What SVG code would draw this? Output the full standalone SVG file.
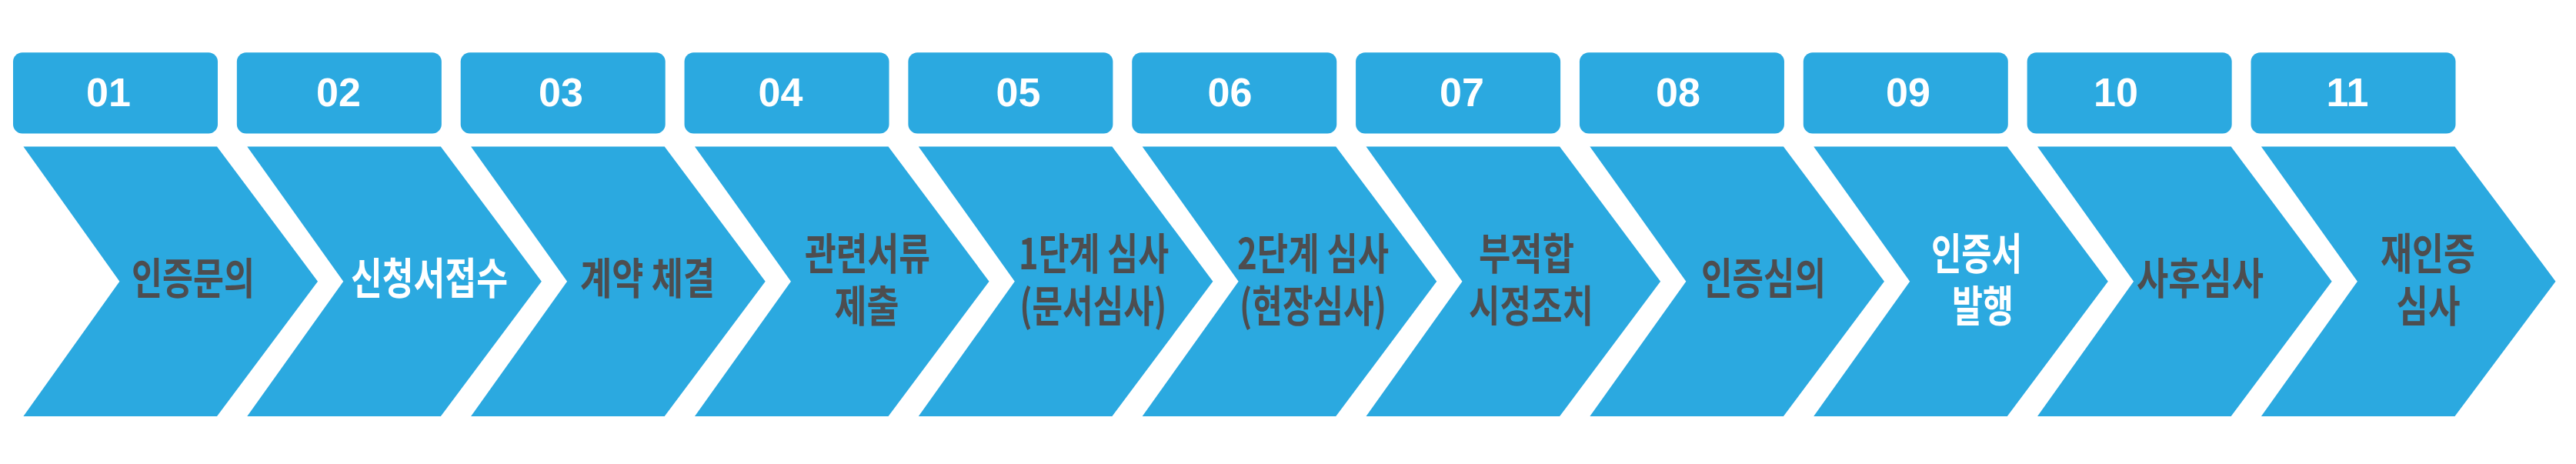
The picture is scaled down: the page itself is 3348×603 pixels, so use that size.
<svg xmlns="http://www.w3.org/2000/svg" width="3348" height="603" viewBox="0 0 3348 603">
<style>
.box{fill:#2BA9E0}
.chev{fill:#2BA9E0}
.num{font-family:"Liberation Sans",Arial,sans-serif;font-weight:700;font-size:52px;fill:#FFFFFF;text-anchor:middle}
.lbl{font-family:"Noto Sans CJK KR","Noto Sans CJK SC",sans-serif;font-weight:700;font-size:56px;fill:#4D4D4F;text-anchor:middle}
.w{fill:#FFFFFF}
</style>
<defs>
<rect id="box" x="0" y="68.3" width="266" height="105.2" rx="12" ry="12"/>
<path id="chev" d="M0,190.4 L251.6,190.4 L382.6,365.7 L251.6,541 L0,541 L125,365.7 Z"/>
</defs>
<rect width="3348" height="603" fill="#FFFFFF"/>
<g id="connectors"/>
<g id="step-01">
<use href="#box" class="box" x="17"/>
<use href="#chev" class="chev" x="30.4"/>
<text class="num" x="141" y="138">01</text>
<text class="lbl" x="251" y="382" textLength="160" lengthAdjust="spacingAndGlyphs">인증문의</text>
</g>
<g id="step-02">
<use href="#box" class="box" x="307.85"/>
<use href="#chev" class="chev" x="321.25"/>
<text class="num" x="440" y="138">02</text>
<text class="lbl w" x="558" y="382" textLength="204" lengthAdjust="spacingAndGlyphs">신청서접수</text>
</g>
<g id="step-03">
<use href="#box" class="box" x="598.7"/>
<use href="#chev" class="chev" x="612.1"/>
<text class="num" x="729" y="138">03</text>
<text class="lbl" x="841.6" y="382" textLength="175" lengthAdjust="spacingAndGlyphs">계약 체결</text>
</g>
<g id="step-04">
<use href="#box" class="box" x="889.55"/>
<use href="#chev" class="chev" x="902.95"/>
<text class="num" x="1014.4" y="138">04</text>
<text class="lbl" x="1127.6" y="350" textLength="163" lengthAdjust="spacingAndGlyphs">관련서류</text>
<text class="lbl" x="1126.4" y="418" textLength="84" lengthAdjust="spacingAndGlyphs">제출</text>
</g>
<g id="step-05">
<use href="#box" class="box" x="1180.4"/>
<use href="#chev" class="chev" x="1193.8"/>
<text class="num" x="1323.5" y="138">05</text>
<text class="lbl" x="1421.6" y="350" textLength="195" lengthAdjust="spacingAndGlyphs">1단계 심사</text>
<text class="lbl" x="1420.7" y="418" textLength="191" lengthAdjust="spacingAndGlyphs">(문서심사)</text>
</g>
<g id="step-06">
<use href="#box" class="box" x="1471.25"/>
<use href="#chev" class="chev" x="1484.65"/>
<text class="num" x="1598.4" y="138">06</text>
<text class="lbl" x="1706.5" y="350" textLength="197" lengthAdjust="spacingAndGlyphs">2단계 심사</text>
<text class="lbl" x="1706.5" y="418" textLength="191" lengthAdjust="spacingAndGlyphs">(현장심사)</text>
</g>
<g id="step-07">
<use href="#box" class="box" x="1762.1"/>
<use href="#chev" class="chev" x="1775.5"/>
<text class="num" x="1900" y="138">07</text>
<text class="lbl" x="1984" y="350" textLength="124" lengthAdjust="spacingAndGlyphs">부적합</text>
<text class="lbl" x="1990" y="418" textLength="162" lengthAdjust="spacingAndGlyphs">시정조치</text>
</g>
<g id="step-08">
<use href="#box" class="box" x="2052.95"/>
<use href="#chev" class="chev" x="2066.35"/>
<text class="num" x="2181" y="138">08</text>
<text class="lbl" x="2292" y="382" textLength="162" lengthAdjust="spacingAndGlyphs">인증심의</text>
</g>
<g id="step-09">
<use href="#box" class="box" x="2343.8"/>
<use href="#chev" class="chev" x="2357.2"/>
<text class="num" x="2480" y="138">09</text>
<text class="lbl w" x="2569" y="350" textLength="118" lengthAdjust="spacingAndGlyphs">인증서</text>
<text class="lbl w" x="2577" y="418" textLength="80" lengthAdjust="spacingAndGlyphs">발행</text>
</g>
<g id="step-10">
<use href="#box" class="box" x="2634.65"/>
<use href="#chev" class="chev" x="2648.05"/>
<text class="num" x="2750" y="138">10</text>
<text class="lbl" x="2859.5" y="382" textLength="165" lengthAdjust="spacingAndGlyphs">사후심사</text>
</g>
<g id="step-11">
<use href="#box" class="box" x="2925.5"/>
<use href="#chev" class="chev" x="2938.9"/>
<text class="num" x="3051" y="138">11</text>
<text class="lbl" x="3155.5" y="350" textLength="123" lengthAdjust="spacingAndGlyphs">재인증</text>
<text class="lbl" x="3156" y="418" textLength="83" lengthAdjust="spacingAndGlyphs">심사</text>
</g>
</svg>
